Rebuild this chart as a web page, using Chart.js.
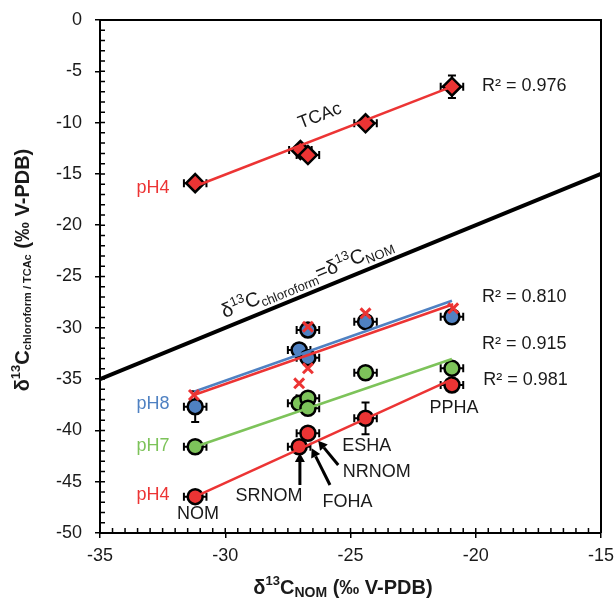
<!DOCTYPE html>
<html>
<head>
<meta charset="utf-8">
<script src="https://cdn.jsdelivr.net/npm/chart.js@4"></script>
<style>
  html, body { margin: 0; padding: 0; background: #fff; }
  #wrap { width: 616px; height: 600px; }
</style>
</head>
<body>
<div id="wrap"><canvas id="chart" width="616" height="600"></canvas></div>
<script>
// values (d13C, permil V-PDB)
var tcacX = [-31.2, -27.0, -26.7, -24.4, -20.95];
var tcacY = [-15.9, -12.67, -13.16, -10.07, -6.5];
var tcacYErr = [0.3, 0.3, 0.3, 0.3, 1.1];

var ph8X = [-31.2, -27.05, -26.7, -26.7, -24.4, -20.95];
var ph8Y = [-37.69, -32.16, -30.21, -32.91, -29.4, -28.92];
var ph8YErr = [1.5, 0.3, 0.3, 0.3, 0.3, 0.3];

var crossX = [-31.25, -27.05, -26.7, -26.7, -24.4, -20.9];
var crossY = [-36.55, -35.41, -29.9, -33.95, -28.59, -28.1];

var ph7X = [-31.2, -27.05, -26.7, -26.7, -24.4, -20.95];
var ph7Y = [-41.59, -37.36, -36.87, -37.84, -34.38, -33.95];
var ph7YErr = [0.3, 0.3, 0.3, 0.3, 0.3, 0.3];

var ph4X = [-31.2, -27.05, -26.7, -24.4, -20.95];
var ph4Y = [-46.46, -41.59, -40.28, -38.82, -35.57];
var ph4YErr = [0.3, 0.3, 0.3, 1.55, 0.3];

var xErr = 0.45;

// trend lines, end points as drawn
var tcacFitX = [-31.2, -20.95], tcacFitY = [-16.2, -6.5];
var ph8FitX = [-31.25, -20.95], ph8FitY = [-36.23, -27.36];
var crossFitX = [-31.25, -20.9], crossFitY = [-36.55, -27.7];
var ph7FitX = [-31.2, -20.95], ph7FitY = [-41.59, -33.04];
var ph4FitX = [-31.2, -20.95], ph4FitY = [-46.46, -35.02];
var oneToOneX = [-35, -15], oneToOneY = [-35, -15];

var rSquared = ['R² = 0.976', 'R² = 0.810', 'R² = 0.915', 'R² = 0.981'];
var sampleNames = ['NOM', 'SRNOM', 'FOHA', 'NRNOM', 'ESHA', 'PPHA'];

var RED = '#EC3434', BLUE = '#4F81C2', GREEN = '#7DC35A';
var FONT = '"Liberation Sans", Arial, sans-serif';

function pts(xs, ys) {
    return xs.map(function (x, i) { return { x: x, y: ys[i] }; });
}

function markerSet(xs, ys, color, style, r) {
    return {
        data: pts(xs, ys), showLine: false, pointStyle: style,
        pointRadius: r, pointHoverRadius: r, pointBorderWidth: 2.5,
        pointBorderColor: '#000', pointBackgroundColor: color, order: 5
    };
}

function lineSet(xs, ys, color, w) {
    return {
        data: pts(xs, ys), showLine: true, pointRadius: 0, pointHoverRadius: 0,
        borderColor: color, borderWidth: w, fill: false, order: 2
    };
}

// text drawn in plugin, positions in axis units
var labels = [
    { t: 'pH4', x: -32.88, y: -16.4, c: RED },
    { t: 'pH8', x: -32.88, y: -37.4, c: BLUE },
    { t: 'pH7', x: -32.88, y: -41.5, c: GREEN },
    { t: 'pH4', x: -32.88, y: -46.3, c: RED },
    { t: sampleNames[0], x: -31.09, y: -48.15 },
    { t: sampleNames[1], x: -28.25, y: -46.4 },
    { t: sampleNames[2], x: -25.12, y: -47.0 },
    { t: sampleNames[3], x: -23.95, y: -44.1 },
    { t: sampleNames[4], x: -24.35, y: -41.5 },
    { t: sampleNames[5], x: -20.87, y: -37.8 },
    { t: rSquared[0], x: -19.75, y: -6.4, a: 'left' },
    { t: rSquared[1], x: -19.75, y: -27.0, a: 'left' },
    { t: rSquared[2], x: -19.75, y: -31.6, a: 'left' },
    { t: rSquared[3], x: -19.7, y: -35.1, a: 'left' }
];
var arrows = [
    [-27.02, -45.32, -27.02, -42.2],
    [-25.82, -45.32, -26.55, -41.74],
    [-25.49, -43.37, -26.29, -41.0]
];

function drawRich(ctx, parts, x, y) {
    var total = 0;
    parts.forEach(function (p) {
        ctx.font = (p[3] || '') + ' ' + p[1] + 'px ' + FONT;
        p.w = ctx.measureText(p[0]).width;
        total += p.w;
    });
    var cx = x - total / 2;
    parts.forEach(function (p) {
        ctx.font = (p[3] || '') + ' ' + p[1] + 'px ' + FONT;
        ctx.fillText(p[0], cx, y + p[2]);
        cx += p.w;
    });
    return total;
}

function errBars(ctx, xs_, ys_, xs, ys, ye) {
    for (var i = 0; i < xs.length; i++) {
        var px = xs_.getPixelForValue(xs[i]), py = ys_.getPixelForValue(ys[i]);
        var l = xs_.getPixelForValue(xs[i] - xErr), r = xs_.getPixelForValue(xs[i] + xErr);
        var t = ys_.getPixelForValue(ys[i] + ye[i]), b = ys_.getPixelForValue(ys[i] - ye[i]);
        ctx.beginPath();
        ctx.moveTo(l, py); ctx.lineTo(r, py);
        ctx.moveTo(l, py - 4); ctx.lineTo(l, py + 4);
        ctx.moveTo(r, py - 4); ctx.lineTo(r, py + 4);
        ctx.moveTo(px, t); ctx.lineTo(px, b);
        ctx.moveTo(px - 4, t); ctx.lineTo(px + 4, t);
        ctx.moveTo(px - 4, b); ctx.lineTo(px + 4, b);
        ctx.stroke();
    }
}

var overlay = {
    id: 'overlay',
    beforeDatasetsDraw: function (chart) {
        var ctx = chart.ctx, sx = chart.scales.x, sy = chart.scales.y;
        ctx.save();
        ctx.strokeStyle = '#000';
        ctx.lineWidth = 2;
        errBars(ctx, sx, sy, tcacX, tcacY, tcacYErr);
        errBars(ctx, sx, sy, ph8X, ph8Y, ph8YErr);
        errBars(ctx, sx, sy, ph7X, ph7Y, ph7YErr);
        errBars(ctx, sx, sy, ph4X, ph4Y, ph4YErr);
        ctx.restore();
    },
    afterDraw: function (chart) {
        var ctx = chart.ctx, sx = chart.scales.x, sy = chart.scales.y, a = chart.chartArea;
        ctx.save();
        // frame and inner ticks
        ctx.strokeStyle = '#000';
        ctx.lineWidth = 2;
        ctx.beginPath();
        ctx.moveTo(a.left, a.top); ctx.lineTo(a.right, a.top); ctx.lineTo(a.right, a.bottom);
        ctx.stroke();
        ctx.lineWidth = 1.5;
        ctx.beginPath();
        for (var v = -35; v <= -15; v += 0.5) {
            var px = sx.getPixelForValue(v);
            ctx.moveTo(px, a.bottom); ctx.lineTo(px, a.bottom - 5);
        }
        for (var w = -50; w <= 0; w += 1) {
            var py = sy.getPixelForValue(w);
            ctx.moveTo(a.left, py); ctx.lineTo(a.left + 5, py);
        }
        ctx.stroke();

        // labels
        ctx.textBaseline = 'middle';
        ctx.font = '18px ' + FONT;
        labels.forEach(function (l) {
            ctx.fillStyle = l.c || '#1a1a1a';
            ctx.textAlign = l.a || 'center';
            ctx.fillText(l.t, sx.getPixelForValue(l.x), sy.getPixelForValue(l.y));
        });

        // arrows
        ctx.strokeStyle = '#000';
        ctx.fillStyle = '#000';
        ctx.lineWidth = 3;
        arrows.forEach(function (ar) {
            var x0 = sx.getPixelForValue(ar[0]), y0 = sy.getPixelForValue(ar[1]);
            var x1 = sx.getPixelForValue(ar[2]), y1 = sy.getPixelForValue(ar[3]);
            var ang = Math.atan2(y1 - y0, x1 - x0);
            var hx = x1 - 9 * Math.cos(ang), hy = y1 - 9 * Math.sin(ang);
            ctx.beginPath();
            ctx.moveTo(x0, y0); ctx.lineTo(hx, hy);
            ctx.stroke();
            ctx.beginPath();
            ctx.moveTo(x1, y1);
            ctx.lineTo(hx + 5 * Math.sin(ang), hy - 5 * Math.cos(ang));
            ctx.lineTo(hx - 5 * Math.sin(ang), hy + 5 * Math.cos(ang));
            ctx.closePath();
            ctx.fill();
        });

        // TCAc along its fit
        ctx.fillStyle = '#1a1a1a';
        var tAng = Math.atan2(sy.getPixelForValue(tcacFitY[1]) - sy.getPixelForValue(tcacFitY[0]),
            sx.getPixelForValue(tcacFitX[1]) - sx.getPixelForValue(tcacFitX[0]));
        ctx.save();
        ctx.translate(sx.getPixelForValue(-26.22), sy.getPixelForValue(-9.36));
        ctx.rotate(tAng);
        ctx.textAlign = 'center';
        ctx.font = '18px ' + FONT;
        ctx.fillText('TCAc', 0, 0);
        ctx.restore();

        // 1:1 label
        var oAng = Math.atan2(sy.getPixelForValue(oneToOneY[1]) - sy.getPixelForValue(oneToOneY[0]),
            sx.getPixelForValue(oneToOneX[1]) - sx.getPixelForValue(oneToOneX[0]));
        ctx.save();
        ctx.translate(sx.getPixelForValue(-29.89), sy.getPixelForValue(-29.89));
        ctx.rotate(oAng);
        ctx.textAlign = 'left';
        ctx.textBaseline = 'alphabetic';
        var oneParts = [['δ', 20, 0], ['13', 13, -8], ['C', 20, 0], ['chloroform', 13, 4],
            ['=δ', 20, 0], ['13', 13, -8], ['C', 20, 0], ['NOM', 13, 4]];
        var tw = 0;
        oneParts.forEach(function (p) { ctx.font = p[1] + 'px ' + FONT; tw += ctx.measureText(p[0]).width; });
        drawRich(ctx, oneParts, tw / 2, -9);
        ctx.restore();

        // axis titles
        ctx.fillStyle = '#1a1a1a';
        ctx.textAlign = 'left';
        ctx.textBaseline = 'middle';
        drawRich(ctx, [['δ', 20, 0, 'bold'], ['13', 13, -7, 'bold'], ['C', 20, 0, 'bold'],
            ['NOM', 14, 5, 'bold'], [' (‰ V-PDB)', 20, 0, 'bold']], 343, 588);
        ctx.save();
        ctx.translate(23, 270);
        ctx.rotate(-Math.PI / 2);
        drawRich(ctx, [['δ', 20, 0, 'bold'], ['13', 13, -7, 'bold'], ['C', 20, 0, 'bold'],
            ['chloroform / TCAc', 11, 5, 'bold'], [' (‰ V-PDB)', 20, 0, 'bold']], 0, 0);
        ctx.restore();
        ctx.restore();
    }
};

var ctx = document.getElementById('chart').getContext('2d');
new Chart(ctx, {
    type: 'scatter',
    data: {
        datasets: [
            markerSet(tcacX, tcacY, RED, 'rectRot', 9),
            markerSet(ph8X, ph8Y, BLUE, 'circle', 7.5),
            markerSet(ph7X, ph7Y, GREEN, 'circle', 7.5),
            markerSet(ph4X, ph4Y, RED, 'circle', 7.5),
            lineSet(oneToOneX, oneToOneY, '#000', 4),
            lineSet(tcacFitX, tcacFitY, RED, 2.5),
            lineSet(ph8FitX, ph8FitY, BLUE, 2.5),
            lineSet(crossFitX, crossFitY, RED, 2.5),
            lineSet(ph7FitX, ph7FitY, GREEN, 2.5),
            lineSet(ph4FitX, ph4FitY, RED, 2.5),
            {
                data: pts(crossX, crossY), showLine: false, pointStyle: 'crossRot',
                pointRadius: 7, pointHoverRadius: 7, pointBorderWidth: 3,
                pointBorderColor: RED, order: 1
            }
        ]
    },
    options: {
        responsive: false,
        animation: false,
        events: [],
        layout: { padding: { left: 0, top: 20, right: 15, bottom: 0 } },
        plugins: { legend: { display: false }, tooltip: { enabled: false } },
        scales: {
            x: {
                type: 'linear', min: -35, max: -15,
                afterFit: function (s) { s.height = 67; s.paddingLeft = 0; s.paddingRight = 0; },
                ticks: { stepSize: 5, color: '#1a1a1a', padding: 7, font: { size: 18, family: FONT } },
                grid: { drawOnChartArea: false, tickLength: 5, color: '#000', lineWidth: 1.5 },
                border: { color: '#000', width: 2 }
            },
            y: {
                type: 'linear', min: -50, max: 0,
                afterFit: function (s) { s.width = 100; s.paddingTop = 0; s.paddingBottom = 0; },
                ticks: { stepSize: 5, color: '#1a1a1a', padding: 13, font: { size: 18, family: FONT } },
                grid: { drawOnChartArea: false, tickLength: 5, color: '#000', lineWidth: 1.5 },
                border: { color: '#000', width: 2 }
            }
        }
    },
    plugins: [overlay]
});
</script>
</body>
</html>
